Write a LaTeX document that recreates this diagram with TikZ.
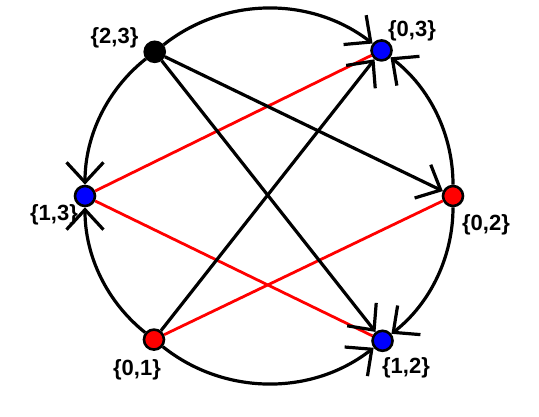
\documentclass[tikz,border=0pt]{standalone}
\usepackage{fontspec}
\setmainfont{Liberation Sans}
\usetikzlibrary{arrows.meta}
\begin{document}
\begin{tikzpicture}[x=1pt,y=1pt,
  vtx/.style={circle, draw=black, line width=2.6pt, minimum size=20pt, inner sep=0pt},
  lbl/.style={font=\fontsize{22}{26}\selectfont\bfseries, inner sep=0pt},
  bedge/.style={line width=3.2pt, draw=black},
  redge/.style={line width=2.8pt, draw=red},
  arr/.style={-{Straight Barb[length=20pt,width=37pt,line width=3.2pt]}},
  bigarc/.style={looseness=0.95},
  smallarc/.style={looseness=0.9}]
\useasboundingbox (0,0) rectangle (539,416);
\coordinate (c) at (269,220);
% vertices
\path (c) ++(0:184)     node[vtx, fill=red]   (n02) {};
\path (c) ++(52.3:184)  node[vtx, fill=blue]  (n03) {};
\path (c) ++(128.4:184) node[vtx, fill=black] (n23) {};
\path (c) ++(180:184)   node[vtx, fill=blue]  (n13) {};
\path (c) ++(231.3:184) node[vtx, fill=red]   (n01) {};
\path (c) ++(308.1:184) node[vtx, fill=blue]  (n12) {};
% labels
\node[lbl] (l03) at (412,385) {\{0,3\}};
\node[lbl] (l23) at (114.5,378) {\{2,3\}};
\node[lbl] (l13) at (54,201) {\{1,3\}};
\node[lbl] (l02) at (486,191) {\{0,2\}};
\node[lbl] (l12) at (406,48) {\{1,2\}};
\node[lbl] (l01) at (137,46) {\{0,1\}};
% red chords
\draw[redge] (n13) -- (n03);
\draw[redge] (n13) -- (n12);
\draw[redge] (n01) -- (n02);
% black chords
\draw[bedge, arr] (n23) -- (n02);
\draw[bedge, arr] (n23) -- (n12);
\draw[bedge, arr] (n01) -- (n03);
% circle arcs
\draw[bedge, arr, bigarc] (n23) to[bend left=38] (n03);
\draw[bedge, arr, smallarc] (n02) to[bend right=26.2] (n03);
\draw[bedge, arr, smallarc] (n02) to[bend left=26] (n12);
\draw[bedge, arr, bigarc] (n01) to[bend right=38.4] (n12);
\draw[bedge, arr, smallarc] (n01) to[bend left=25.7] (n13);
\draw[bedge, arr, smallarc] (n23) to[bend right=25.8] (n13);
\end{tikzpicture}
\end{document}
